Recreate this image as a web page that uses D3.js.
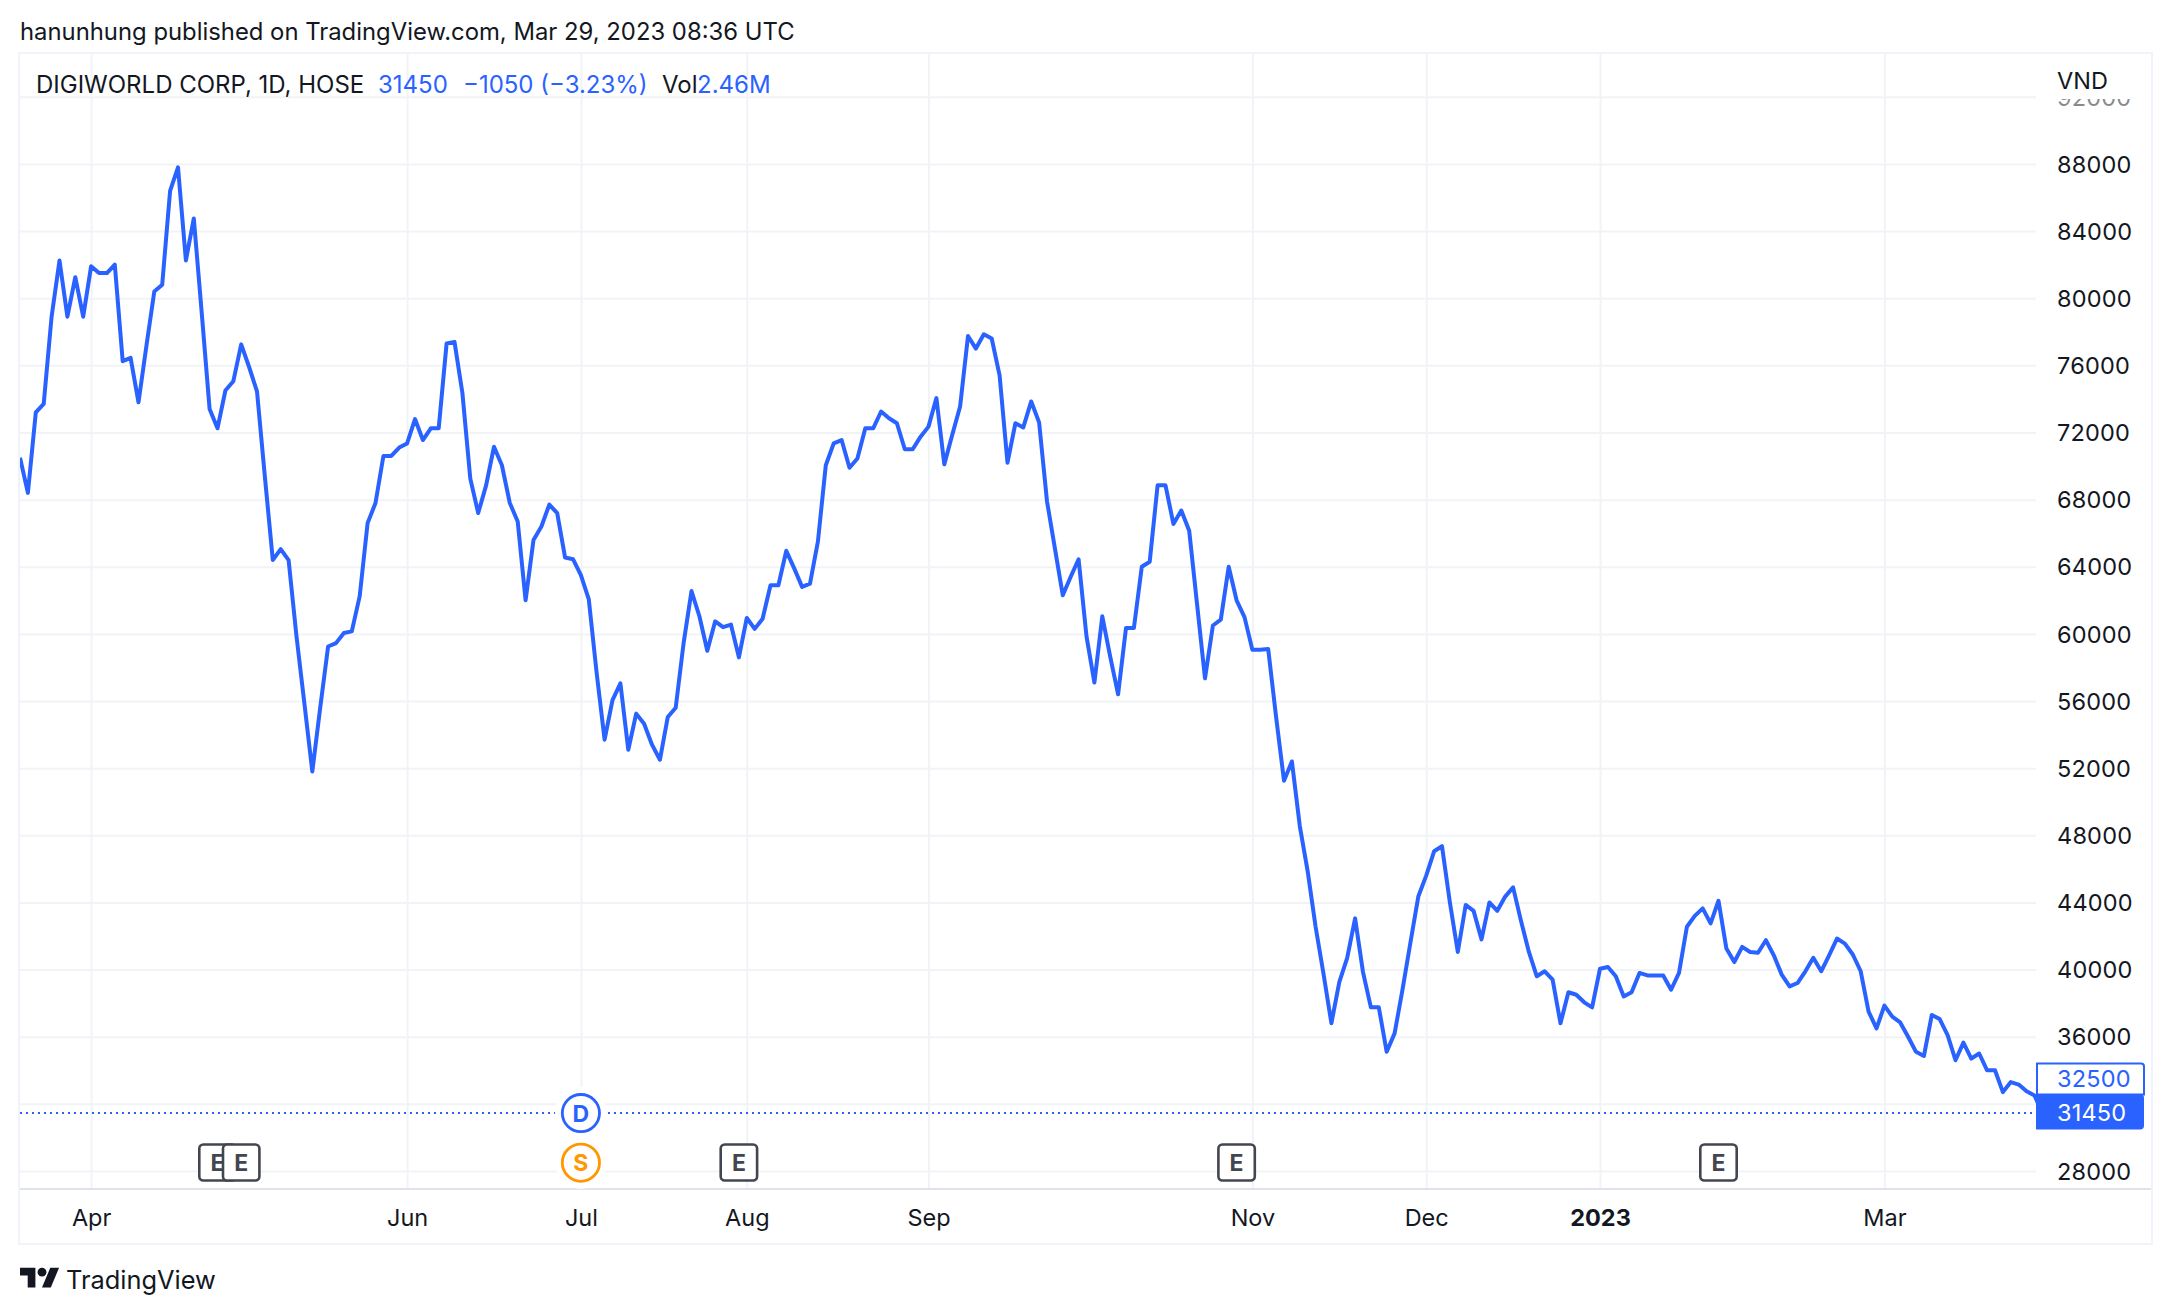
<!DOCTYPE html>
<html>
<head>
<meta charset="utf-8">
<script src="https://cdn.jsdelivr.net/npm/d3@7"></script>
<style>
	body { margin: 0; background: #fff; }
	text { font-family: Inter, "Noto Sans", sans-serif; fill: #131722; }
</style>
</head>
<body>
<script>
// daily closes (VND)
var closes = [
	70500, 68400, 73200, 73700, 78900, 82250, 78900, 81250, 78900, 81900, 81500, 81500, 82000, 76250, 76450, 73800,
	77150, 80400, 80800, 86400, 87800, 82250, 84750, 79150, 73400, 72250, 74500, 75050, 77250, 75900, 74450, 69350,
	64400, 65050, 64400, 59850, 55850, 51800, 55600, 59250, 59450, 60050, 60150, 62250, 66600, 67800, 70600, 70600,
	71100, 71350, 72800, 71550, 72250, 72250, 77300, 77400, 74350, 69250, 67200, 68850, 71150, 70050, 67800, 66700,
	62000, 65600, 66400, 67700, 67200, 64550, 64450, 63500, 62050, 57650, 53700, 56050, 57050, 53100, 55250, 54650,
	53400, 52500, 55050, 55600, 59450, 62550, 61050, 59000, 60750, 60400, 60550, 58600, 60950, 60300, 60900, 62900,
	62900, 64950, 63900, 62800, 63000, 65500, 70050, 71350, 71550, 69900, 70450, 72250, 72250, 73250, 72850, 72550,
	71000, 71000, 71750, 72350, 74050, 70100, 71850, 73550, 77750, 77000, 77850, 77600, 75400, 70200, 72550, 72300,
	73850, 72600, 67900, 65100, 62300, 63400, 64450, 59850, 57100, 61050, 58650, 56400, 60350, 60350, 64000, 64300,
	68850, 68850, 66550, 67350, 66150, 61750, 57350, 60500, 60850, 64000, 62000, 61000, 59050, 59050, 59100, 55050,
	51250, 52400, 48550, 45850, 42550, 39750, 36800, 39250, 40700, 43050, 39850, 37750, 37750, 35100, 36200, 38800,
	41600, 44350, 45600, 47050, 47350, 44000, 41050, 43850, 43500, 41800, 44000, 43500, 44350, 44900, 42900, 41050,
	39600, 39900, 39400, 36800, 38650, 38500, 38050, 37750, 40050, 40150, 39600, 38400, 38650, 39800, 39650, 39650,
	39650, 38800, 39800, 42550, 43200, 43650, 42750, 44100, 41250, 40450, 41350, 41050, 41000, 41750, 40850, 39700,
	39000, 39200, 39900, 40700, 39900, 40850, 41850, 41550, 40900, 39900, 37500, 36500, 37850, 37200, 36850, 36000,
	35100, 34850, 37300, 37050, 36100, 34600, 35650, 34700, 35000, 34000, 34000, 32700, 33300, 33150, 32750, 32500,
	31450
];

var price_ticks = [28000, 32000, 36000, 40000, 44000, 48000, 52000, 56000, 60000, 64000, 68000, 72000, 76000, 80000, 84000, 88000, 92000];

// bar number where each month starts
var month_bars = [9, 49, 71, 92, 115, 156, 178, 200, 236];
var month_labels = ["Apr", "Jun", "Jul", "Aug", "Sep", "Nov", "Dec", "2023", "Mar"];

var earnings_bars = [25, 28, 91, 154, 215];
var dividend_bar = 71;
var split_bar = 71;

var last_price = 31450;
var prev_close = 32500;

var width = 2172;
var height = 1314;
var left = 20, right = 2036, top_y = 54, bottom = 1188;
var outer_right = 2152, outer_bottom = 1244;
var blue = "#2962ff";
var grid_color = "#f1f3f7";

var svg = d3.select("body").append("svg").attr("width", width).attr("height", height).style("display", "block");

var x = d3.scaleLinear().domain([0, closes.length - 1]).range([left, left + (closes.length - 1) * 7.9]);
var y = d3.scaleLinear().domain([28000, 92000]).range([1171, 96.8]);

svg.append("defs").append("clipPath").attr("id", "plot")
	.append("rect").attr("x", left).attr("y", top_y).attr("width", right - left).attr("height", bottom - top_y);
// clip lives in the axis group's own coordinates
svg.select("defs").append("clipPath").attr("id", "price_clip")
	.append("rect").attr("x", 0).attr("y", 99).attr("width", 110).attr("height", bottom - 99);

// grid
var y_grid = d3.axisRight(y).tickValues(price_ticks).tickSize(right - left).tickFormat("");
svg.append("g").attr("transform", "translate(" + left + ",0)").call(y_grid)
	.call(function(g) {
		g.select(".domain").remove();
		g.selectAll("line").attr("stroke", grid_color).attr("stroke-width", 2);
	});

var x_grid = d3.axisTop(x).tickValues(month_bars).tickSize(bottom - top_y).tickFormat("");
svg.append("g").attr("transform", "translate(0," + bottom + ")").call(x_grid)
	.call(function(g) {
		g.select(".domain").remove();
		g.selectAll("line").attr("stroke", grid_color).attr("stroke-width", 2);
	});

// frame
svg.append("rect").attr("x", left - 1).attr("y", top_y - 1).attr("width", outer_right - left + 1).attr("height", outer_bottom - top_y + 1)
	.attr("fill", "none").attr("stroke", "#f0f3fa").attr("stroke-width", 2);
svg.append("line").attr("x1", left).attr("x2", outer_right - 1).attr("y1", bottom + 1).attr("y2", bottom + 1)
	.attr("stroke", "#e0e3eb").attr("stroke-width", 2);

// last price dotted line
svg.append("line").attr("x1", left).attr("x2", right).attr("y1", y(last_price)).attr("y2", y(last_price))
	.attr("stroke", blue).attr("stroke-width", 2).attr("stroke-dasharray", "2 4");

// price line
var line = d3.line().x(function(d, i) { return x(i); }).y(function(d) { return y(d); });
svg.append("path").datum(closes)
	.attr("clip-path", "url(#plot)")
	.attr("fill", "none").attr("stroke", blue).attr("stroke-width", 4)
	.attr("stroke-linejoin", "round").attr("d", line);

// event markers along the bottom
earnings_bars.forEach(function(b) {
	var g = svg.append("g").attr("transform", "translate(" + x(b) + ",1162.5)");
	g.append("rect").attr("x", -18.2).attr("y", -18).attr("width", 36.4).attr("height", 36).attr("rx", 4)
		.attr("fill", "#fff").attr("stroke", "#434651").attr("stroke-width", 2.6);
	g.append("text").attr("text-anchor", "middle").attr("y", 8.5).attr("font-size", 23).attr("font-weight", 700)
		.style("fill", "#434651").text("E");
});

function circle_marker(bar, cy, color, letter) {
	var g = svg.append("g").attr("transform", "translate(" + x(bar) + "," + cy + ")");
	g.append("circle").attr("r", 26).attr("fill", "#fff");
	g.append("circle").attr("r", 18.6).attr("fill", "#fff").attr("stroke", color).attr("stroke-width", 2.8);
	g.append("text").attr("text-anchor", "middle").attr("y", 8.5).attr("font-size", 23).attr("font-weight", 700)
		.style("fill", color).text(letter);
}
circle_marker(dividend_bar, y(last_price), blue, "D");
circle_marker(split_bar, 1162.7, "#ff9800", "S");

// price scale
var y_axis = d3.axisRight(y).tickValues(price_ticks).tickSize(0).tickFormat(d3.format("d"));
svg.append("g").attr("transform", "translate(" + right + ",0)").attr("clip-path", "url(#price_clip)").call(y_axis)
	.call(function(g) {
		g.select(".domain").remove();
		g.selectAll("text").attr("x", 21).attr("dy", "0.35em").attr("font-size", 23.5)
			.style("font-family", "Inter").style("letter-spacing", "0.2px")
			.attr("opacity", function(d) { return d == 92000 ? 0.5 : 1; });
	});

// time scale
var x_axis = d3.axisBottom(x).tickValues(month_bars).tickSize(0)
	.tickFormat(function(d, i) { return month_labels[i]; });
svg.append("g").attr("transform", "translate(0," + bottom + ")").call(x_axis)
	.call(function(g) {
		g.select(".domain").remove();
		g.selectAll("text").attr("y", 30).attr("dy", "0.35em").attr("font-size", 23.5)
			.style("font-family", "Inter")
			.attr("font-weight", function(d, i) { return month_labels[i] == "2023" ? 700 : 400; });
	});

// price labels
svg.append("path")
	.attr("d", "M" + (right + 1) + "," + 1063.5 + "h104a3,3 0 0 1 3,3v28h-107z")
	.attr("fill", "#fff").attr("stroke", blue).attr("stroke-width", 2);
svg.append("path")
	.attr("d", "M" + right + "," + 1094 + "h104a4,4 0 0 1 4,4v27.5a4,4 0 0 1 -4,4h-104z")
	.attr("fill", blue);
svg.append("text").attr("x", right + 21).attr("y", y(prev_close) - 17).attr("dy", "0.35em").attr("font-size", 23.5)
	.style("fill", blue).style("letter-spacing", "0.2px").text(prev_close);
svg.append("text").attr("x", right + 21).attr("y", y(last_price)).attr("dy", "0.35em").attr("font-size", 23.5)
	.style("fill", "#fff").style("letter-spacing", "0.2px").text(last_price);

svg.append("text").attr("x", 2057).attr("y", 81).attr("dy", "0.35em").attr("font-size", 23.5).text("VND");

// header
svg.append("text").attr("x", 20).attr("y", 32).attr("dy", "0.35em").attr("font-size", 23.85)
	.text("hanunhung published on TradingView.com, Mar 29, 2023 08:36 UTC");

function legend(str, px, color) {
	svg.append("text").attr("x", px).attr("y", 85).attr("dy", "0.35em").attr("font-size", 24)
		.style("fill", color).text(str);
}
legend("DIGIWORLD CORP, 1D, HOSE", 36, "#131722");
legend(last_price, 378, blue);
legend("\u22121050 (\u22123.23%)", 463, blue);
legend("Vol", 662, "#131722");
legend("2.46M", 697, blue);

// footer logo
var logo = svg.append("g").attr("transform", "translate(20,1263.4) scale(1.1)").attr("fill", "#131722");
logo.append("path").attr("d", "M14 22H7V11H0V4h14v18zM28 22h-8l7.5-18h8L28 22z");
logo.append("circle").attr("cx", 20).attr("cy", 8).attr("r", 4);
svg.append("text").attr("x", 66).attr("y", 1280).attr("dy", "0.35em").attr("font-size", 25.4).text("TradingView");
</script>
</body>
</html>
